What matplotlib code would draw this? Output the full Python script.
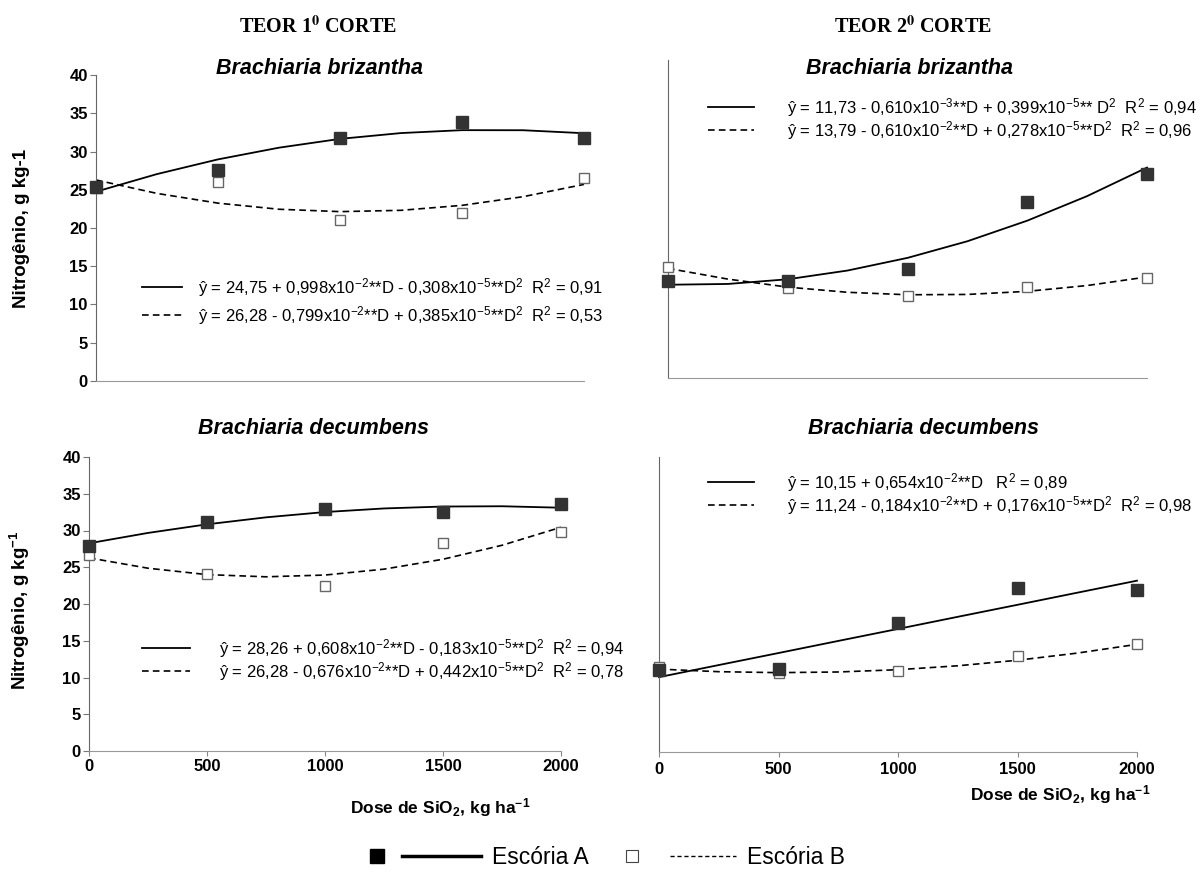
import matplotlib
matplotlib.use('Agg')
import matplotlib.pyplot as plt
from matplotlib.lines import Line2D
from matplotlib.legend_handler import HandlerBase

plt.rcParams['font.family'] = ['Liberation Sans', 'DejaVu Sans']
plt.rcParams['mathtext.fontset'] = 'custom'
plt.rcParams['mathtext.rm'] = 'Liberation Sans'
plt.rcParams['mathtext.it'] = 'Liberation Sans:italic'
plt.rcParams['mathtext.bf'] = 'Liberation Sans:bold'

# dose de SiO2 (kg/ha)
dose = [0, 500, 1000, 1500, 2000]
curve_dose = [0, 250, 500, 750, 1000, 1250, 1500, 1750, 2000]

# Brachiaria brizantha, 1o corte
bb1_A = [25.4, 27.6, 31.7, 33.9, 31.7]
bb1_B = [25.2, 26.0, 21.0, 22.0, 26.5]
bb1_A_fit = [24.75, 27.05, 28.97, 30.50, 31.65, 32.41, 32.79, 32.78, 32.39]
bb1_B_fit = [26.28, 24.52, 23.25, 22.45, 22.14, 22.31, 22.96, 24.09, 25.70]
# Brachiaria brizantha, 2o corte
bb2_A = [12.2, 12.2, 13.7, 22.2, 25.7]
bb2_B = [14.0, 11.3, 10.3, 11.4, 12.6]
bb2_A_fit = [11.73, 11.83, 12.42, 13.52, 15.11, 17.20, 19.79, 22.88, 26.47]
bb2_B_fit = [13.79, 12.44, 11.43, 10.78, 10.47, 10.51, 10.90, 11.63, 12.71]
# Brachiaria decumbens, 1o corte
bd1_A = [27.9, 31.2, 32.9, 32.5, 33.6]
bd1_B = [26.7, 24.1, 22.5, 28.3, 29.8]
bd1_A_fit = [28.26, 29.67, 30.84, 31.79, 32.51, 33.00, 33.26, 33.30, 33.10]
bd1_B_fit = [26.28, 24.87, 24.00, 23.70, 23.94, 24.74, 26.09, 27.99, 30.44]
# Brachiaria decumbens, 2o corte
bd2_A = [11.1, 11.2, 17.5, 22.3, 22.0]
bd2_B = [11.5, 10.7, 11.0, 13.0, 14.6]
bd2_A_fit = [10.15, 11.79, 13.42, 15.06, 16.69, 18.33, 19.96, 21.60, 23.23]
bd2_B_fit = [11.24, 10.89, 10.76, 10.85, 11.16, 11.69, 12.44, 13.41, 14.60]

eq_bb1 = [r'ŷ = 24,75 + 0,998x10$^{-2}$**D - 0,308x10$^{-5}$**D$^{2}$  R$^{2}$ = 0,91',
          r'ŷ = 26,28 - 0,799x10$^{-2}$**D + 0,385x10$^{-5}$**D$^{2}$  R$^{2}$ = 0,53']
eq_bb2 = [r'ŷ = 11,73 - 0,610x10$^{-3}$**D + 0,399x10$^{-5}$** D$^{2}$  R$^{2}$ = 0,94',
          r'ŷ = 13,79 - 0,610x10$^{-2}$**D + 0,278x10$^{-5}$**D$^{2}$  R$^{2}$ = 0,96']
eq_bd1 = [r'ŷ = 28,26 + 0,608x10$^{-2}$**D - 0,183x10$^{-5}$**D$^{2}$  R$^{2}$ = 0,94',
          r'ŷ = 26,28 - 0,676x10$^{-2}$**D + 0,442x10$^{-5}$**D$^{2}$  R$^{2}$ = 0,78']
eq_bd2 = [r'ŷ = 10,15 + 0,654x10$^{-2}$**D   R$^{2}$ = 0,89',
          r'ŷ = 11,24 - 0,184x10$^{-2}$**D + 0,176x10$^{-5}$**D$^{2}$  R$^{2}$ = 0,98']

W, H = 1204, 877
EQ_FS = 12


def fpos(x, y):
    return x / W, 1 - y / H


class SquareLine(HandlerBase):
    # quadrado + linha, como na legenda original
    def __init__(self, start):
        super().__init__()
        self.start = start

    def create_artists(self, legend, orig_handle, xdescent, ydescent, width,
                       height, fontsize, trans):
        sq, ln = orig_handle
        y = height / 2 - ydescent
        x0 = -xdescent
        m = Line2D([x0 + 0.055 * width], [y])
        m.update_from(sq)
        m.set_transform(trans)
        l = Line2D([x0 + self.start * width, x0 + width], [y, y])
        l.update_from(ln)
        l.set_transform(trans)
        return [m, l]


def panel(fig, x0, y0, x1, y1):
    ax = fig.add_axes([x0 / W, 1 - y1 / H, (x1 - x0) / W, (y1 - y0) / H])
    ax.set_xlim(0, 2000)
    ax.set_ylim(0, 40)
    ax.spines['top'].set_visible(False)
    ax.spines['right'].set_visible(False)
    ax.spines['left'].set_color('#666666')
    ax.spines['bottom'].set_color('#999999')
    ax.set_facecolor('none')
    return ax


def draw(fig, ax, A, B, A_fit, B_fit, eqs, leg_xy, hl, htp, lsp):
    la, = ax.plot(curve_dose, A_fit, color='black', lw=1.3, clip_on=False)
    lb, = ax.plot(curve_dose, B_fit, color='black', lw=1.2, ls=(0, (4, 2.5)), clip_on=False)
    ax.plot(dose, B, ls='none', marker='s', ms=7.5, mfc='white', mec='#666666',
            mew=1, zorder=3, clip_on=False)
    ax.plot(dose, A, ls='none', marker='s', ms=9, mfc='#333333', mec='#333333',
            zorder=4, clip_on=False)
    ax.legend([la, lb], eqs, loc='upper left', bbox_to_anchor=fpos(*leg_xy),
              bbox_transform=fig.transFigure, frameon=False, fontsize=EQ_FS,
              handlelength=hl, handletextpad=htp, labelspacing=lsp,
              borderpad=0, borderaxespad=0)


def yaxis_ticks(ax):
    ticks = list(range(0, 41, 5))
    ax.set_yticks(ticks, [str(t) for t in ticks], fontweight='bold', fontsize=12)
    ax.tick_params(axis='y', direction='out', length=4.5, color='#777777', pad=1.5)


def xaxis_ticks(ax, pad):
    ax.set_xticks(dose, [str(d) for d in dose], fontweight='bold', fontsize=12)
    ax.tick_params(axis='x', direction='out', length=3.5, color='#888888', pad=pad)


def main():
    fig = plt.figure(figsize=(12.04, 8.77), dpi=100)

    ax1 = panel(fig, 96, 75, 584, 381)
    ax2 = panel(fig, 668, 60, 1147, 378)
    ax3 = panel(fig, 89, 457, 561, 751)
    ax4 = panel(fig, 659, 457, 1137, 752)

    draw(fig, ax1, bb1_A, bb1_B, bb1_A_fit, bb1_B_fit, eq_bb1, (142, 276), 2.4, 0.96, 0.3)
    draw(fig, ax2, bb2_A, bb2_B, bb2_A_fit, bb2_B_fit, eq_bb2, (708, 96), 2.77, 1.98, 0.0)
    draw(fig, ax3, bd1_A, bd1_B, bd1_A_fit, bd1_B_fit, eq_bd1, (142, 637), 2.87, 1.75, 0.0)
    draw(fig, ax4, bd2_A, bd2_B, bd2_A_fit, bd2_B_fit, eq_bd2, (708, 471), 2.77, 1.98, 0.0)

    for ax in (ax1, ax3):
        yaxis_ticks(ax)
    for ax in (ax2, ax4):
        ax.set_yticks([])
    for ax in (ax1, ax2):
        ax.set_xticks([])
    xaxis_ticks(ax3, 2.5)
    xaxis_ticks(ax4, 3.5)

    ax1.set_ylabel('Nitrogênio, g kg-1', fontsize=13.5, fontweight='bold')
    ax1.yaxis.set_label_coords(-0.135, 0.5)
    ax3.set_ylabel(r'Nitrogênio, g kg$^{\mathbf{-1}}$', fontsize=13.5, fontweight='bold')
    ax3.yaxis.set_label_coords(-0.121, 0.48)

    xlab = r'Dose de SiO$_{\mathbf{2}}$, kg ha$^{\mathbf{-1}}$'
    fig.text(*fpos(440, 808), xlab, ha='center', va='center', fontsize=12.5, fontweight='bold')
    fig.text(*fpos(1060, 795), xlab, ha='center', va='center', fontsize=12.5, fontweight='bold')

    # titulos
    for x, txt in ((318, r'TEOR 1$^{\mathbf{0}}$ CORTE'), (913, r'TEOR 2$^{\mathbf{0}}$ CORTE')):
        fig.text(*fpos(x, 27), txt, ha='center', va='center', fontsize=14.5,
                 fontweight='bold', family='Liberation Serif', math_fontfamily='stix')
    for x, y, txt in ((320, 68, 'Brachiaria brizantha'), (910, 68, 'Brachiaria brizantha'),
                      (313, 428, 'Brachiaria decumbens'), (924, 428, 'Brachiaria decumbens')):
        fig.text(*fpos(x, y), txt, ha='center', va='center', fontsize=15.5,
                 fontweight='bold', style='italic')

    sqA = Line2D([], [], ls='none', marker='s', ms=10, mfc='black', mec='black')
    lnA = Line2D([], [], color='black', lw=2.5)
    sqB = Line2D([], [], ls='none', marker='s', ms=9, mfc='white', mec='#444444', mew=0.8)
    lnB = Line2D([], [], color='black', lw=1, ls=(0, (3, 2)))
    hA = (sqA, lnA)
    hB = (sqB, lnB)
    fig.legend([hA, hB], ['Escória A', 'Escória B'],
               handler_map={hA: SquareLine(0.28), hB: SquareLine(0.4)},
               ncol=2, loc='center', bbox_to_anchor=fpos(608, 858), frameon=False,
               fontsize=16.5, handlelength=4.8, columnspacing=1.6, handletextpad=0.5)

    fig.savefig('out.png', dpi=100)


if __name__ == '__main__':
    main()
